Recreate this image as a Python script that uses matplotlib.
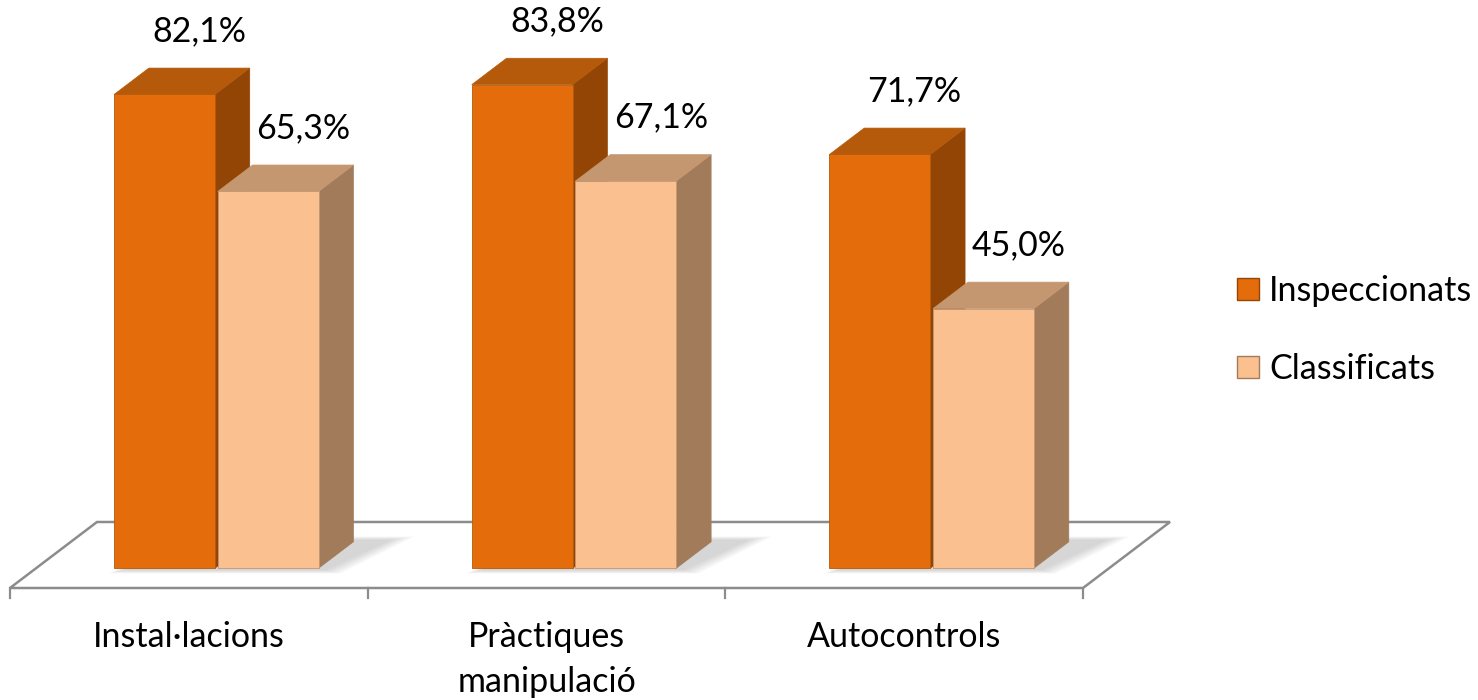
import matplotlib.pyplot as plt
from matplotlib.patches import Polygon, Patch

# Data
categories = ["Instal·lacions", "Pràctiques\nmanipulació", "Autocontrols"]
series = ["Inspeccionats", "Classificats"]
inspeccionats = [82.1, 83.8, 71.7]
classificats = [65.3, 67.1, 45.0]

# Colours per series: front, top, side
front_c = ["#E46C0A", "#FAC090"]
top_c = ["#B55A0A", "#C49770"]
side_c = ["#934506", "#A27B5B"]

plt.rcParams['font.family'] = ['Lato', 'DejaVu Sans']

# pseudo-3d geometry (data units)
DX, DY = 0.2432, 11.44     # full floor depth vector
BAR_W = 0.282
D0, D1 = 0.30, 0.70        # bar front / back depth


def proj(x, y, d):
    return (x + d * DX, y + d * DY)


fig = plt.figure(figsize=(14.78, 7.0), dpi=100)
ax = fig.add_axes([0, 0, 1, 1])
ax.set_xlim(-10 / 357.67, 1468 / 357.67)
ax.set_ylim(-112 / 5.77, 588 / 5.77)
ax.axis('off')

# floor
floor = [proj(0, 0, 0), proj(3, 0, 0), proj(3, 0, 1), proj(0, 0, 1)]
ax.add_patch(Polygon(floor, closed=True, facecolor='white', edgecolor='#8C8C8C',
                     linewidth=1.8, zorder=1))
for i in range(len(categories) + 1):
    ax.plot([i, i], [0, -1.75], color='#8C8C8C', linewidth=1.6, zorder=1)

values = [inspeccionats, classificats]

# soft shadows on floor
for i in range(len(categories)):
    xa = i + 0.5 - BAR_W
    xb = i + 0.5 + BAR_W + 0.008
    for k in range(6):
        e = 0.01 * k
        shp = [proj(xa + 0.03 - e * 0.5, 0, D0 - 0.03 - e),
               proj(xb + 0.03 + e, 0, D0 - 0.03 - e),
               proj(xb + 0.10 + e, 0, D1 + 0.03 + e),
               proj(xa + 0.10, 0, D1 + 0.03 + e)]
        ax.add_patch(Polygon(shp, closed=True, facecolor='#707070', edgecolor='none',
                             alpha=0.05, zorder=2))

# bars
for i in range(len(categories)):
    for j in range(len(series)):
        v = values[j][i]
        x0 = i + 0.5 + (j - 1) * BAR_W + j * 0.008
        x1 = x0 + BAR_W
        side = [proj(x1, 0, D0), proj(x1, 0, D1), proj(x1, v, D1), proj(x1, v, D0)]
        top = [proj(x0, v, D0), proj(x1, v, D0), proj(x1, v, D1), proj(x0, v, D1)]
        front = [proj(x0, 0, D0), proj(x1, 0, D0), proj(x1, v, D0), proj(x0, v, D0)]
        ax.add_patch(Polygon(side, closed=True, facecolor=side_c[j], edgecolor=side_c[j],
                             linewidth=0.5, zorder=3))
        ax.add_patch(Polygon(top, closed=True, facecolor=top_c[j], edgecolor=top_c[j],
                             linewidth=0.5, zorder=3))
        ax.add_patch(Polygon(front, closed=True, facecolor=front_c[j], edgecolor=top_c[j],
                             linewidth=0.6, zorder=3))
        lx, ly = proj((x0 + x1) / 2, v, D1)
        ax.annotate(f"{v:.1f}%".replace('.', ','), (lx, ly), xytext=(0, 37),
                    textcoords='offset pixels', ha='center', va='center',
                    fontsize=24.5, color='black', zorder=5)

# category labels
for i, cat in enumerate(categories):
    ax.text(i + 0.5, -5.7, cat, ha='center', va='top', fontsize=24.5,
            linespacing=1.5, color='black')

handles = [Patch(facecolor=front_c[j], edgecolor=side_c[j], label=series[j])
           for j in range(len(series))]
ax.legend(handles=handles, loc='center left', bbox_to_anchor=(1237 / 1478, 1 - 330 / 700),
          bbox_transform=fig.transFigure, frameon=False, fontsize=24.5, borderpad=0,
          borderaxespad=0, handlelength=0.65, handleheight=0.65, handletextpad=0.3,
          labelspacing=1.35)

fig.savefig("out.png", dpi=100)
